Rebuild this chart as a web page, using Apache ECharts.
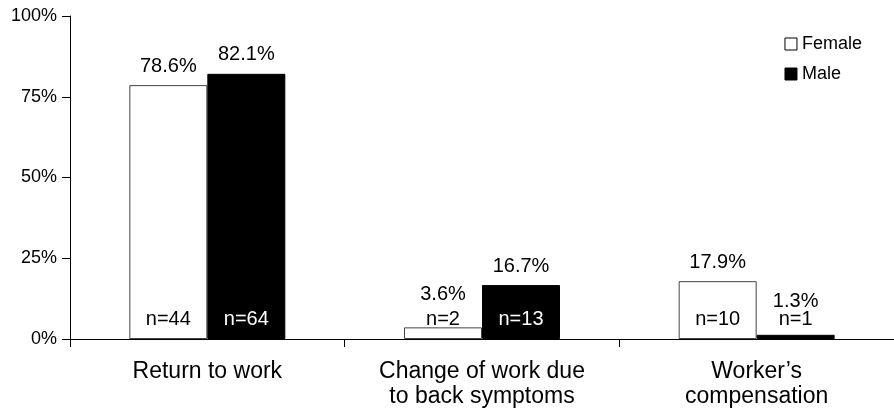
<!DOCTYPE html>
<html>
<head>
<meta charset="utf-8">
<script src="https://cdn.jsdelivr.net/npm/echarts@6/dist/echarts.min.js"></script>
<style>
  html, body { margin: 0; padding: 0; background: #fff; }
  #chart { width: 894px; height: 414px; }
</style>
</head>
<body>
<div id="chart"></div>
<script>
// categories and values
const categories = ['Return to work', 'Change of work due\nto back symptoms', 'Worker\u2019s\ncompensation'];
const femalePct = [78.6, 3.6, 17.9];
const malePct = [82.1, 16.7, 1.3];
const femaleN = [44, 2, 10];
const maleN = [64, 13, 1];
const yTicks = [0, 25, 50, 75, 100];

const FONT = '"Liberation Sans", Arial, sans-serif';
const chart = echarts.init(document.getElementById('chart'), null, {renderer: 'canvas'});

// percent label above bar; small bars get pushed up so the n= label fits under it
function pctData(vals){
    return vals.map(v => ({
        value: v,
        label: {distance: v < 10 ? 23 : 9}
    }));
}
// n= label sits near the bottom of every bar
function nData(vals, ns, dark){
    return vals.map((v, i) => ({
        value: v,
        nLabel: 'n=' + ns[i],
        label: {color: dark && v > 10 ? '#fff' : '#000'}
    }));
}

const barW = 78;

const option = {
    backgroundColor: '#fff',
    animation: false,
    textStyle: {fontFamily: FONT, color: '#000'},
    legend: {
        orient: 'vertical',
        right: 27,
        top: 30,
        itemWidth: 12,
        itemHeight: 12,
        itemGap: 12,
        icon: 'rect',
        textStyle: {fontFamily: FONT, fontSize: 18, color: '#000'},
        data: [
            {name: 'Female', itemStyle: {color: '#fff', borderColor: '#000', borderWidth: 1}},
            {name: 'Male', itemStyle: {color: '#000', borderColor: '#000', borderWidth: 1}}
        ]
    },
    grid: {left: 70, top: 16, width: 827, height: 323, containLabel: false},
    xAxis: [
        {
            type: 'category',
            data: categories,
            axisLine: {lineStyle: {color: '#000', width: 1}},
            axisTick: {show: true, length: 8, lineStyle: {color: '#000'}},
            axisLabel: {fontFamily: FONT, fontSize: 23, color: '#000', margin: 20, lineHeight: 25}
        },
        {
            type: 'category',
            data: categories,
            show: false
        }
    ],
    yAxis: {
        type: 'value',
        min: 0,
        max: 100,
        interval: 25,
        splitLine: {show: false},
        axisLine: {show: true, lineStyle: {color: '#000', width: 1}},
        axisTick: {show: true, length: 8, lineStyle: {color: '#000'}},
        axisLabel: {
            fontFamily: FONT, fontSize: 18, color: '#000', margin: 13,
            formatter: v => yTicks.includes(v) ? v + '%' : ''
        }
    },
    series: [
        {
            name: 'Female',
            type: 'bar',
            xAxisIndex: 0,
            barWidth: barW,
            barGap: '0%',
            data: pctData(femalePct),
            itemStyle: {color: '#fff', borderColor: '#444', borderWidth: 1},
            label: {show: true, position: 'top', fontFamily: FONT, fontSize: 20, color: '#000',
                formatter: p => p.value.toFixed(1) + '%'}
        },
        {
            name: 'Male',
            type: 'bar',
            xAxisIndex: 0,
            barWidth: barW,
            barGap: '0%',
            data: pctData(malePct),
            itemStyle: {color: '#000', borderColor: '#000', borderWidth: 1},
            label: {show: true, position: 'top', fontFamily: FONT, fontSize: 20, color: '#000',
                formatter: p => p.value.toFixed(1) + '%'}
        },
        // transparent copies on a hidden axis, only for the n= labels
        {
            name: 'FemaleN',
            type: 'bar',
            xAxisIndex: 1,
            barWidth: barW,
            barGap: '0%',
            silent: true,
            data: nData(femalePct, femaleN, false),
            itemStyle: {color: 'rgba(0,0,0,0)'},
            label: {show: true, position: 'insideBottom', distance: 10, fontFamily: FONT, fontSize: 20,
                formatter: p => p.data.nLabel}
        },
        {
            name: 'MaleN',
            type: 'bar',
            xAxisIndex: 1,
            barWidth: barW,
            barGap: '0%',
            silent: true,
            data: nData(malePct, maleN, true),
            itemStyle: {color: 'rgba(0,0,0,0)'},
            label: {show: true, position: 'insideBottom', distance: 10, fontFamily: FONT, fontSize: 20,
                formatter: p => p.data.nLabel},
            z: 3
        }
    ]
};

chart.setOption(option);
</script>
</body>
</html>
